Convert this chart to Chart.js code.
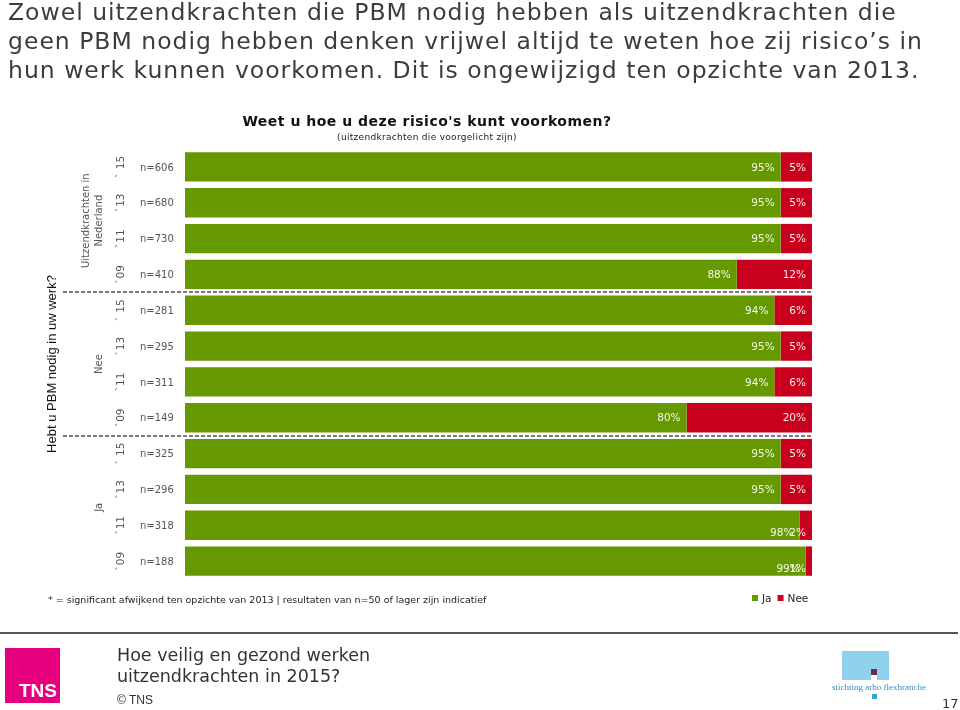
<!DOCTYPE html>
<html>
<head>
<meta charset="utf-8">
<script src="https://cdn.jsdelivr.net/npm/chart.js@4"></script>
<style>
  html, body { margin: 0; padding: 0; background: #fff; }
  body { width: 960px; height: 710px; position: relative; overflow: hidden; font-family: 'DejaVu Sans', Verdana, sans-serif; }
  #chart { position: absolute; left: 0; top: 0; }
  .abs { position: absolute; white-space: nowrap; }
  #title { left: 8px; top: -2px; font-size: 23.5px; line-height: 29px; color: #3c3c3c; letter-spacing: 1px; }
  #ctitle { left: 0; width: 854px; top: 113px; text-align: center; font-weight: bold; font-size: 14px; letter-spacing: 0.5px; color: #111; }
  #csub { left: 0; width: 854px; top: 132px; text-align: center; font-size: 9px; letter-spacing: 0.3px; color: #222; }
  #note { left: 48px; top: 594px; font-size: 9.5px; color: #222; }
  #rule { left: 0; top: 632px; width: 958px; height: 2px; background: #555; }
  #tns { left: 5px; top: 648px; width: 55px; height: 55px; background: #e6007e; }
  #tns span { position: absolute; right: 3px; bottom: 1px; color: #fff; font: bold 19px 'Liberation Sans', Arial, sans-serif; }
  #foot { left: 117px; top: 645px; font-size: 17.5px; line-height: 21px; color: #333; }
  #copy { left: 117px; top: 693px; font: 12px 'Liberation Sans', Arial, sans-serif; color: #333; }
  #arbo1 { left: 842px; top: 651px; width: 47px; height: 29px; background: #8fd0ea; }
  #arbo2 { left: 871px; top: 669px; width: 6px; height: 6px; background: #6b2a5a; }
  #arbo3 { left: 871px; top: 675px; width: 6px; height: 5px; background: #fff; }
  #arbo4 { left: 872px; top: 694px; width: 5px; height: 5px; background: #3aa5d5; }
  #arbotxt { left: 832px; top: 682px; font: 9px 'Liberation Serif', serif; color: #3a8fc0; }
  #page { left: 942px; top: 696px; font-size: 13px; color: #333; }
</style>
</head>
<body>
<canvas id="chart" width="960" height="710"></canvas>

<div class="abs" id="title">Zowel uitzendkrachten die PBM nodig hebben als uitzendkrachten die<br>geen PBM nodig hebben denken vrijwel altijd te weten hoe zij risico’s in<br>hun werk kunnen voorkomen. Dit is ongewijzigd ten opzichte van 2013.</div>
<div class="abs" id="ctitle">Weet u hoe u deze risico's kunt voorkomen?</div>
<div class="abs" id="csub">(uitzendkrachten die voorgelicht zijn)</div>
<div class="abs" id="note">* = significant afwijkend ten opzichte van 2013 | resultaten van n=50 of lager zijn indicatief</div>
<div class="abs" id="rule"></div>
<div class="abs" id="tns"><span>TNS</span></div>
<div class="abs" id="foot">Hoe veilig en gezond werken<br>uitzendkrachten in 2015?</div>
<div class="abs" id="copy">© TNS</div>
<div class="abs" id="arbo1"></div>
<div class="abs" id="arbo2"></div>
<div class="abs" id="arbo3"></div>
<div class="abs" id="arbo4"></div>
<div class="abs" id="arbotxt">stichting arbo flexbranche</div>
<div class="abs" id="page">17</div>

<script>
// ---- Data ----

const axisTitle   = 'Hebt u PBM nodig in uw werk?'
const groupLabels = [['Uitzendkrachten in', 'Nederland'], ['Nee'], ['Ja']]
const yearLabels  = ['` 15', '`13', '`11', '`09']
const sampleSizes = ['n=606', 'n=680', 'n=730', 'n=410', 'n=281', 'n=295', 'n=311', 'n=149', 'n=325', 'n=296', 'n=318', 'n=188']
const jaValues    = [95, 95, 95, 88, 94, 95, 94, 80, 95, 95, 98, 99]
const neeValues   = [5, 5, 5, 12, 6, 5, 6, 20, 5, 5, 2, 1]
const seriesNames = ['Ja', 'Nee']
const seriesColors = ['#669900', '#c8001e']

// ---- Overlay plugin: value labels, side labels, separators, legend ----

const overlay = {
  id: 'overlay',
  afterDatasetsDraw(chart) {
    const ctx = chart.ctx
    const area = chart.chartArea
    const y = chart.scales.y
    const x = chart.scales.x
    const rowY = i => y.getPixelForValue(i)
    const perGroup = yearLabels.length

    ctx.save()

    // value labels
    ctx.font = '10.5px "DejaVu Sans", Verdana, sans-serif'
    ctx.fillStyle = 'rgba(255,255,255,0.92)'
    ctx.textAlign = 'right'
    ctx.textBaseline = 'middle'
    jaValues.forEach((v, i) => {
      const cy = rowY(i) + (neeValues[i] < 5 ? 8 : 1)
      ctx.fillText(v + '%', x.getPixelForValue(v) - 6, cy)
      ctx.fillText(neeValues[i] + '%', x.getPixelForValue(v + neeValues[i]) - 6, cy)
    })

    // n= labels and years
    ctx.font = '10px "DejaVu Sans", Verdana, sans-serif'
    ctx.fillStyle = '#555'
    ctx.textAlign = 'left'
    sampleSizes.forEach((s, i) => ctx.fillText(s, 140, rowY(i) + 1))

    ctx.font = '10.5px "DejaVu Sans", Verdana, sans-serif'
    ctx.textAlign = 'center'
    sampleSizes.forEach((s, i) => {
      ctx.save()
      ctx.translate(121, rowY(i))
      ctx.rotate(-Math.PI / 2)
      ctx.fillText(yearLabels[i % perGroup], 0, 0)
      ctx.restore()
    })

    // group labels
    ctx.font = '10px "DejaVu Sans", Verdana, sans-serif'
    groupLabels.forEach((lines, g) => {
      const cy = (rowY(g * perGroup) + rowY(g * perGroup + perGroup - 1)) / 2
      ctx.save()
      ctx.translate(lines.length > 1 ? 86 : 99, cy)
      ctx.rotate(-Math.PI / 2)
      lines.forEach((l, k) => ctx.fillText(l, 0, k * 13))
      ctx.restore()
    })

    // outer axis title
    ctx.fillStyle = '#111'
    ctx.font = '13px "Liberation Sans", Arial, sans-serif'
    ctx.save()
    ctx.translate(52, (rowY(perGroup) + rowY(2 * perGroup - 1)) / 2)
    ctx.rotate(-Math.PI / 2)
    ctx.fillText(axisTitle, 0, 0)
    ctx.restore()

    // dashed separators between groups
    ctx.strokeStyle = '#7a7a7a'
    ctx.lineWidth = 2
    ctx.setLineDash([4, 2])
    for (let g = 1; g < groupLabels.length; g++) {
      const sy = Math.round((rowY(g * perGroup - 1) + rowY(g * perGroup)) / 2)
      ctx.beginPath()
      ctx.moveTo(63, sy)
      ctx.lineTo(area.right, sy)
      ctx.stroke()
    }
    ctx.setLineDash([])

    // legend
    ctx.font = '10.5px "DejaVu Sans", Verdana, sans-serif'
    ctx.textAlign = 'left'
    let lx = 752
    seriesNames.forEach((name, k) => {
      ctx.fillStyle = seriesColors[k]
      ctx.fillRect(lx, 595, 6, 6)
      ctx.fillStyle = '#222'
      ctx.fillText(name, lx + 10, 599)
      lx += 10 + ctx.measureText(name).width + 6
    })

    ctx.restore()
  }
}

// ---- Chart ----

new Chart(document.getElementById('chart'), {
  type: 'bar',
  data: {
    labels: sampleSizes,
    datasets: [
      { label: seriesNames[0], data: jaValues,  backgroundColor: seriesColors[0] },
      { label: seriesNames[1], data: neeValues, backgroundColor: seriesColors[1] }
    ]
  },
  options: {
    indexAxis: 'y',
    responsive: false,
    animation: false,
    layout: { padding: { left: 185, right: 148, top: 149, bottom: 131 } },
    datasets: { bar: { barPercentage: 0.82, categoryPercentage: 1 } },
    plugins: { legend: { display: false }, tooltip: { enabled: false } },
    scales: {
      x: { stacked: true, min: 0, max: 100, display: false },
      y: { stacked: true, display: false }
    }
  },
  plugins: [overlay]
})
</script>
</body>
</html>
